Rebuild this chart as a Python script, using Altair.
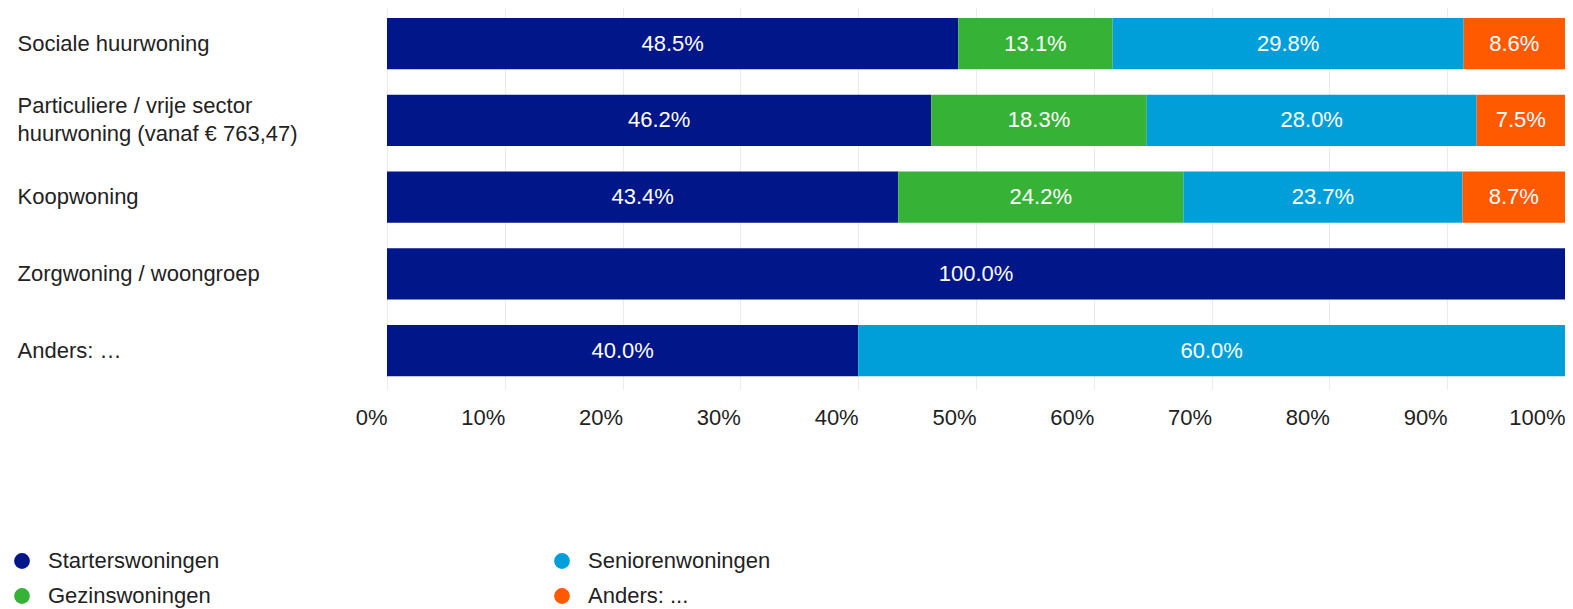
import altair as alt
import pandas as pd

categories = [
    "Sociale huurwoning",
    "Particuliere / vrije sector|huurwoning (vanaf € 763,47)",
    "Koopwoning",
    "Zorgwoning / woongroep",
    "Anders: …",
]
series = ["Starterswoningen", "Gezinswoningen", "Seniorenwoningen", "Anders: ..."]
starters = [48.5, 46.2, 43.4, 100.0, 40.0]
gezins = [13.1, 18.3, 24.2, 0.0, 0.0]
senioren = [29.8, 28.0, 23.7, 0.0, 60.0]
anders = [8.6, 7.5, 8.7, 0.0, 0.0]
colors = ["#001689", "#36b336", "#009fda", "#ff5a00"]
x_ticks = [0, 10, 20, 30, 40, 50, 60, 70, 80, 90, 100]

rows = []
for ci, cat in enumerate(categories):
    for si, (s, vals) in enumerate(zip(series, [starters, gezins, senioren, anders])):
        rows.append({"type": cat, "series": s, "order": si, "value": vals[ci]})
df = pd.DataFrame(rows)

FONT = "Liberation Sans"
TXT = "#222222"

base = alt.Chart(df).transform_stack(
    stack="value", groupby=["type"], as_=["x0", "x1"],
    sort=[alt.SortField("order", order="ascending")]
).transform_calculate(
    mid="(datum.x0 + datum.x1) / 2",
    lab="format(datum.value / 100, '.1%')"
)

y_enc = alt.Y(
    "type:N", sort=categories, title=None,
    scale=alt.Scale(paddingInner=0.33, paddingOuter=0.147, align=0.44),
    axis=alt.Axis(
        labelExpr="split(datum.label, '|')",
        labelAlign="left", labelPadding=370, labelLimit=400,
        labelFont=FONT, labelFontSize=22, labelColor=TXT,
        labelLineHeight=28,
        labelOffset={"condition": {"test": "indexof(datum.value, '|') >= 0", "value": -14}, "value": 0},
        domain=False, ticks=False, grid=False,
    ),
)

bars = base.mark_bar().encode(
    x=alt.X(
        "x0:Q", title=None,
        scale=alt.Scale(domain=[0, 100], nice=False),
        axis=alt.Axis(
            values=x_ticks, labelExpr="datum.value + '%'",
            labelAlign="right", labelBaseline="top", labelPadding=18,
            labelFont=FONT, labelFontSize=22, labelColor=TXT, labelFlush=False,
            domain=False, ticks=False, grid=True, gridColor="#ebebeb",
        ),
    ),
    x2="x1:Q",
    y=y_enc,
    color=alt.Color(
        "series:N",
        scale=alt.Scale(domain=series, range=colors),
        legend=alt.Legend(
            title=None, orient="none", legendX=-376, legendY=542,
            columns=2, columnPadding=331, rowPadding=13,
            symbolType="circle", symbolSize=250, symbolStrokeWidth=0,
            labelFont=FONT, labelFontSize=22, labelColor=TXT, labelOffset=15,
            labelLimit=400, padding=0, direction="vertical",
        ),
    ),
    order=alt.Order("order:Q"),
)

texts = base.transform_filter("datum.value > 0").mark_text(
    font=FONT, fontSize=22, color="white", baseline="middle", align="center"
).encode(
    x=alt.X("mid:Q"),
    y=alt.Y("type:N", sort=categories),
    text="lab:N",
)

chart = alt.layer(bars, texts).properties(
    width=1178, height=381,
    autosize=alt.AutoSizeParams(type="none"),
    padding={"left": 379, "top": 0, "right": 0, "bottom": 220},
).configure_view(stroke=None)

chart.save("out.html", embed_options={"renderer": "svg", "actions": False})
